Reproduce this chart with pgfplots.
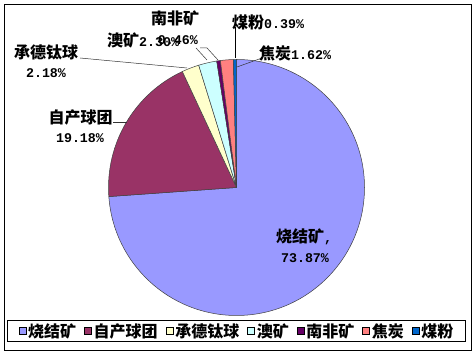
\documentclass[border=0pt]{standalone}
\usepackage{pgfplots}
\usepackage{pgfplotstable}
\pgfplotsset{compat=1.18}
\usepackage{fontspec}
\setmainfont{Liberation Mono}
\newfontfamily\cjk{Noto Sans CJK SC}
\definecolor{c0}{HTML}{9999FF}
\definecolor{c1}{HTML}{993366}
\definecolor{c2}{HTML}{FFFFCC}
\definecolor{c3}{HTML}{CCFFFF}
\definecolor{c4}{HTML}{660066}
\definecolor{c5}{HTML}{FF8080}
\definecolor{c6}{HTML}{0066CC}
\pgfplotstableread{
idx value
0 73.87
1 19.18
2 2.18
3 2.30
4 0.46
5 1.62
6 0.39
}\piedata
\def\cum{90}
\pgfplotsforeachungrouped \i in {0,...,6}{%
  \pgfplotstablegetelem{\i}{value}\of\piedata
  \pgfmathsetmacro\endang{\cum-3.6*\pgfplotsretval}%
  \expandafter\xdef\csname sA\i\endcsname{\cum}%
  \expandafter\xdef\csname eA\i\endcsname{\endang}%
  \xdef\cum{\endang}%
}
\newcommand\slice[2]{%
  \filldraw[fill=#2, draw=black!75, line width=0.5pt]
    (axis cs:236.5,167.5) -- ([shift={(\csname sA#1\endcsname:128pt)}]axis cs:236.5,167.5)
    arc[start angle=\csname sA#1\endcsname, end angle=\csname eA#1\endcsname, radius=128pt] -- cycle;}
\newcommand\cf{\cjk\bfseries\fontsize{16}{18}\selectfont}
\newcommand\lf{\bfseries\fontsize{13.3}{16}\selectfont}
\begin{document}
\begin{tikzpicture}
\begin{axis}[
  x=1pt, y=1pt, xmin=0, xmax=476, ymin=0, ymax=355,
  scale only axis, hide axis, clip=false,
  legend columns=7,
  legend style={at={(axis cs:236.5,24)}, anchor=center, draw=black, line width=0.8pt,
    font=\cf, inner xsep=11pt, inner ysep=2pt,
    /tikz/every odd column/.append style={column sep=1pt},
    /tikz/every even column/.append style={column sep=7pt},
    nodes={inner xsep=1pt, inner ysep=1pt}},
  legend image code/.code={\draw[#1, line width=0.5pt] (0pt,-3pt) rectangle (7pt,4pt);},
]
\addlegendimage{fill=c0, draw=black}\addlegendentry{烧结矿}
\addlegendimage{fill=c1, draw=black}\addlegendentry{自产球团}
\addlegendimage{fill=c2, draw=black}\addlegendentry{承德钛球}
\addlegendimage{fill=c3, draw=black}\addlegendentry{澳矿}
\addlegendimage{fill=c4, draw=black}\addlegendentry{南非矿}
\addlegendimage{fill=c5, draw=black}\addlegendentry{焦炭}
\addlegendimage{fill=c6, draw=black}\addlegendentry{煤粉}
\path (axis cs:0,0) rectangle (axis cs:476,355);
\draw[black, line width=1pt] (axis cs:4.5,4.5) rectangle (axis cs:471,350.5);
\slice{0}{c0}\slice{1}{c1}\slice{2}{c2}\slice{3}{c3}\slice{4}{c4}\slice{5}{c5}\slice{6}{c6}
% leader lines
\draw[black!80, line width=0.5pt] (axis cs:113,233) -- (axis cs:127,233);
\draw[black!80, line width=0.5pt] (axis cs:80,297) -- (axis cs:187,287);
\draw[black!80, line width=0.5pt] (axis cs:196,307) -- (axis cs:207,295);
\draw[black!80, line width=0.5pt] (axis cs:200,307) -- (axis cs:207,307) -- (axis cs:218,295);
\draw[black, line width=0.6pt] (axis cs:235,328) -- (axis cs:235,297);
\draw[black!80, line width=0.5pt] (axis cs:237,288) -- (axis cs:262,297);
% labels
\node[inner sep=0pt] at (axis cs:304,118) {{\cf 烧结矿}{\lf,}};
\node[inner sep=0pt] at (axis cs:305,97) {\lf 73.87\%};
\node[inner sep=0pt] at (axis cs:80.5,238) {\cf 自产球团};
\node[inner sep=0pt] at (axis cs:80,217) {\lf 19.18\%};
\node[inner sep=0pt] at (axis cs:46,303) {\cf 承德钛球};
\node[inner sep=0pt] at (axis cs:46,282) {\lf 2.18\%};
\node[inner sep=0pt] at (axis cs:175,337) {\cf 南非矿};
\node[inner sep=0pt, anchor=east] at (axis cs:198,315) {\lf 0.46\%};
\node[inner sep=0pt, anchor=west] at (axis cs:107,315) {{\cf 澳矿}{\lf 2.30\%}};
\node[inner sep=0pt, anchor=west] at (axis cs:232,333) {{\cf 煤粉}{\lf 0.39\%}};
\node[inner sep=0pt, anchor=west] at (axis cs:259,302) {{\cf 焦炭}{\lf 1.62\%}};
\end{axis}
\end{tikzpicture}
\end{document}
